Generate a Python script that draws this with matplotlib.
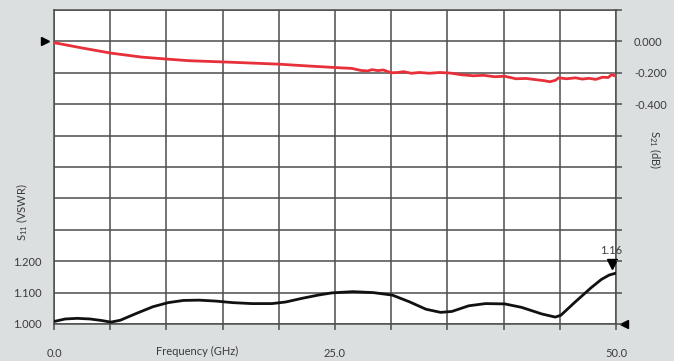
import matplotlib
matplotlib.use("Agg")
import matplotlib.pyplot as plt
import numpy as np
from matplotlib.transforms import blended_transform_factory

# ---- data ----
s11_freq = [0.0, 1.0, 2.06, 3.2, 4.26, 5.06, 5.9, 7.35, 8.8, 10.15, 11.5, 12.9, 14.4,
            15.9, 17.6, 19.4, 20.6, 22.1, 23.5, 24.7, 25.6, 26.6, 28.4, 30.1, 31.6,
            33.1, 34.4, 35.4, 36.9, 38.4, 40.1, 41.6, 43.4, 44.6, 45.1, 46.3, 47.8,
            48.7, 49.4, 50.0]
s11_vswr = [1.008, 1.016, 1.018, 1.016, 1.011, 1.006, 1.012, 1.034, 1.055, 1.068, 1.075,
            1.076, 1.073, 1.068, 1.065, 1.065, 1.070, 1.082, 1.092, 1.099, 1.101, 1.103,
            1.100, 1.092, 1.071, 1.047, 1.037, 1.040, 1.058, 1.065, 1.064, 1.053, 1.032,
            1.022, 1.028, 1.068, 1.116, 1.142, 1.156, 1.162]

s21_freq = [0.0, 2.5, 5.1, 7.8, 10.1, 12.0, 15.5, 20.0, 22.7, 25.4, 26.5, 27.3, 27.9,
            28.3, 28.8, 29.3, 30.0, 30.6, 31.1, 31.8, 32.5, 33.4, 34.3, 35.3, 36.2,
            37.3, 38.2, 39.2, 40.1, 41.1, 42.0, 43.0, 43.6, 44.1, 44.6, 44.9, 45.6,
            46.4, 47.0, 47.6, 48.2, 48.8, 49.3, 49.6, 50.0]
s21_db = [-0.008, -0.042, -0.075, -0.100, -0.113, -0.123, -0.132, -0.145, -0.157, -0.168,
          -0.172, -0.185, -0.188, -0.180, -0.186, -0.182, -0.200, -0.198, -0.193, -0.203,
          -0.198, -0.203, -0.198, -0.202, -0.212, -0.219, -0.216, -0.225, -0.222, -0.238,
          -0.236, -0.245, -0.250, -0.257, -0.248, -0.232, -0.238, -0.232, -0.240, -0.235,
          -0.242, -0.228, -0.230, -0.212, -0.222]

marker_label = "1.16"

x_ticks = [0.0, 25.0, 50.0]
x_ticklabels = ["0.0", "25.0", "50.0"]
left_labels = {1.0: "1.000", 1.1: "1.100", 1.2: "1.200"}
right_labels = {0.0: "0.000", -0.2: "-0.200", -0.4: "-0.400"}

# ---- style ----
BG = "#dcdfe0"
GRID = "#4d4d4d"
TXT = "#3a3a3a"
FONT = ["Lato", "DejaVu Sans"]
FS = 8
plt.rcParams['font.family'] = FONT
plt.rcParams['font.size'] = FS
plt.rcParams['mathtext.fontset'] = 'custom'
plt.rcParams['mathtext.rm'] = 'Lato'

fig = plt.figure(figsize=(6.74, 3.61), dpi=100, facecolor=BG)
ax = fig.add_axes([54/674, 1 - 324/361, (616-54)/674, (324-10)/361])
ax.set_facecolor("white")

ax.set_xlim(0, 50)
ax.set_ylim(1.0, 2.0)
xt = np.arange(0, 50.01, 5)
ax.set_xticks(xt)
ax.set_xticklabels([x_ticklabels[x_ticks.index(v)] if v in x_ticks else "" for v in xt])
yt = np.round(np.arange(1.0, 2.001, 0.1), 3)
ax.set_yticks(yt)
ax.set_yticklabels([left_labels.get(round(v, 1), "") for v in yt])
ax.grid(True, color=GRID, lw=1.1)
for s in ax.spines.values():
    s.set_color(GRID)
    s.set_linewidth(1.1)
ax.tick_params(axis='x', length=4, width=1.1, color=GRID, pad=13, labelcolor=TXT, labelsize=FS)
ax.tick_params(axis='y', length=0, pad=9, labelcolor=TXT, labelsize=FS)

ax2 = ax.twinx()
ax2.set_ylim(-1.8, 0.2)
rt = np.round(np.arange(-1.8, 0.201, 0.2), 3)
ax2.set_yticks(rt)
ax2.set_yticklabels([right_labels.get(round(v, 1), "") for v in rt])
ax2.tick_params(axis='y', length=4, width=1.1, color=GRID, pad=9, labelcolor=TXT, labelsize=FS)
for s in ax2.spines.values():
    s.set_visible(False)

# curves
ax2.plot(s21_freq, s21_db, color="#e8303a", lw=2.0, zorder=3, solid_joinstyle='round')
ax.plot(s11_freq, s11_vswr, color="#111111", lw=2.0, zorder=4, solid_joinstyle='round')

# markers
ax2.plot([-0.8], [0.0], marker='>', color='black', ms=6, clip_on=False, zorder=5)
ax.plot([50.7], [1.0], marker='<', color='black', ms=6, clip_on=False, zorder=5)
ax.plot([49.6], [1.19], marker='v', color='black', ms=7, clip_on=False, zorder=6)
ax.text(49.6, 1.215, marker_label, ha='center', va='bottom', color=TXT, fontsize=FS)

# axis labels
tr = blended_transform_factory(ax.transData, ax.transAxes)
ax.text(12.7, -0.088, "Frequency (GHz)", transform=tr, ha='center', va='center',
        color=TXT, fontsize=FS)
fig.text(22/674, 1 - 212/361, "S$_{11}$ (VSWR)", rotation=90, ha='center', va='center',
         color=TXT, fontsize=FS)
fig.text(655/674, 1 - 150/361, "S$_{21}$ (dB)", rotation=270, ha='center', va='center',
         color=TXT, fontsize=FS)

fig.savefig("out.png", dpi=100, facecolor=BG)
